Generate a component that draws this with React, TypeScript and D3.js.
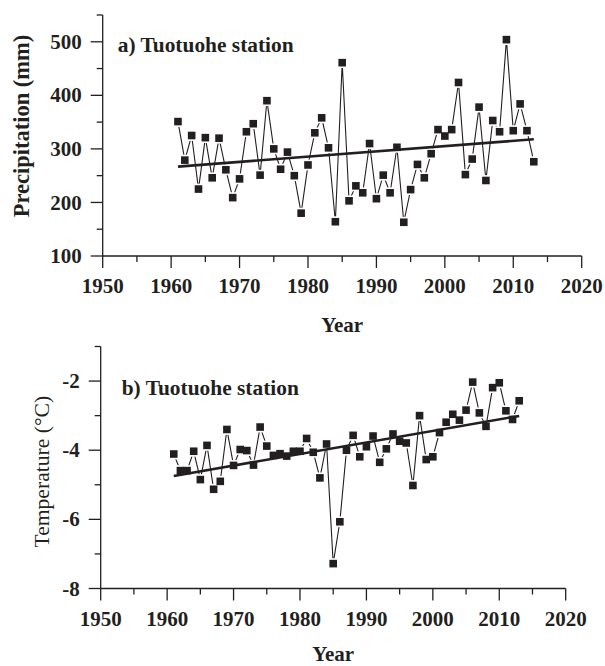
import React from "react";
import * as d3 from "d3";

const years: number[] = d3.range(1961, 2014);
const precipitation: number[] = [
  351, 279, 325, 225, 321, 246, 320, 261, 209, 244,
  332, 347, 251, 390, 300, 262, 294, 250, 180, 270,
  330, 358, 302, 164, 461, 203, 231, 218, 310, 207,
  251, 218, 303, 163, 224, 271, 246, 291, 336, 324,
  336, 424, 252, 281, 378, 241, 353, 332, 504, 334,
  384, 334, 276,
];
const temperature: number[] = [
  -4.11, -4.59, -4.59, -4.03, -4.85, -3.86, -5.13, -4.9, -3.4, -4.44,
  -3.98, -4.01, -4.43, -3.33, -3.88, -4.15, -4.1, -4.17, -4.03, -4.03,
  -3.66, -4.06, -4.8, -3.82, -7.28, -6.07, -4.0, -3.57, -4.19, -3.9,
  -3.59, -4.35, -3.96, -3.53, -3.74, -3.79, -5.02, -3.0, -4.27, -4.19,
  -3.49, -3.19, -2.96, -3.13, -2.84, -2.03, -2.92, -3.31, -2.19, -2.05,
  -2.86, -3.11, -2.57,
];
const xTicks: number[] = [1950, 1960, 1970, 1980, 1990, 2000, 2010, 2020];
const precipTicks: number[] = [100, 200, 300, 400, 500];
const tempTicks: number[] = [-8, -6, -4, -2];

const INK = "#231f20";
const FONT = "Liberation Serif, Times New Roman, Times, serif";

function fit(xs: number[], ys: number[]) {
  const mx = d3.mean(xs)!;
  const my = d3.mean(ys)!;
  let sxy = 0, sxx = 0;
  xs.forEach((x, i) => {
    sxy += (x - mx) * (ys[i] - my);
    sxx += (x - mx) * (x - mx);
  });
  const b = sxy / sxx;
  return (x: number) => my + b * (x - mx);
}

type PanelProps = {
  values: number[];
  yDomain: [number, number];
  yRange: [number, number];
  xRange: [number, number];
  yTicks: number[];
  yMinorStep: number;
  title: string;
  titleX: number;
  titleY: number;
  yLabel: string;
  yLabelX: number;
  yLabelY: number;
  yLabelBold: boolean;
  xLabelBaseline: number;
  yearBaseline: number;
};

function T(props: any) {
  const { bold, size, children, ...rest } = props;
  return (
    <text
      {...rest}
      style={{ fontFamily: FONT, fontWeight: bold ? 700 : 400, fontSize: size + "px" }}
      fill={INK}
    >
      {children}
    </text>
  );
}

function Panel(p: PanelProps) {
  const x = d3.scaleLinear().domain([1950, 2020]).range(p.xRange);
  const y = d3.scaleLinear().domain(p.yDomain).range(p.yRange);
  const x0 = p.xRange[0];
  const y0 = p.yRange[0];
  const minorX = d3.range(1955, 2020, 10);
  const minorY = d3.range(p.yDomain[0] + p.yMinorStep, p.yDomain[1] + 1e-6, p.yMinorStep * 2);
  const line = d3
    .line<number>()
    .x((_, i) => x(years[i]))
    .y((v) => y(v));
  const f = fit(years, p.values);
  const ms = 7.6;
  return (
    <g>
      <line x1={x0} x2={p.xRange[1]} y1={y0} y2={y0} stroke={INK} strokeWidth={1.3} />
      <line x1={x0} x2={x0} y1={y0} y2={p.yRange[1]} stroke={INK} strokeWidth={1.3} />
      {xTicks.map((t) => (
        <g key={"xt" + t}>
          <line x1={x(t)} x2={x(t)} y1={y0} y2={y0 + 12} stroke={INK} strokeWidth={1.3} />
          <T x={x(t)} y={p.xLabelBaseline} textAnchor="middle" bold size={21}>
            {t}
          </T>
        </g>
      ))}
      {minorX.map((t) => (
        <line key={"xm" + t} x1={x(t)} x2={x(t)} y1={y0} y2={y0 + 6} stroke={INK} strokeWidth={1.3} />
      ))}
      {p.yTicks.map((t) => (
        <g key={"yt" + t}>
          <line x1={x0 - 12} x2={x0} y1={y(t)} y2={y(t)} stroke={INK} strokeWidth={1.3} />
          <T x={x0 - 21} y={y(t)} dy="0.34em" textAnchor="end" bold size={21}>
            {t}
          </T>
        </g>
      ))}
      {minorY.map((t) => (
        <line key={"ym" + t} x1={x0 - 6} x2={x0} y1={y(t)} y2={y(t)} stroke={INK} strokeWidth={1.3} />
      ))}
      <path d={line(p.values) || ""} fill="none" stroke={INK} strokeWidth={1.1} />
      {p.values.map((v, i) => (
        <rect
          key={"h" + i}
          x={x(years[i]) - ms / 2 - 1.6}
          y={y(v) - ms / 2 - 1.6}
          width={ms + 3.2}
          height={ms + 3.2}
          fill="#fff"
        />
      ))}
      <line
        x1={x(years[0])}
        x2={x(years[years.length - 1])}
        y1={y(f(years[0]))}
        y2={y(f(years[years.length - 1]))}
        stroke={INK}
        strokeWidth={2.6}
      />
      {p.values.map((v, i) => (
        <rect
          key={"m" + i}
          x={x(years[i]) - ms / 2}
          y={y(v) - ms / 2}
          width={ms}
          height={ms}
          fill={INK}
        />
      ))}
      <T x={p.titleX} y={p.titleY} bold size={21.4}>
        {p.title}
      </T>
      <T
        transform={`translate(${p.yLabelX},${p.yLabelY}) rotate(-90)`}
        textAnchor="middle"
        bold={p.yLabelBold}
        size={p.yLabelBold ? 22.5 : 21.6}
      >
        {p.yLabel}
      </T>
      <T x={(p.xRange[0] + p.xRange[1]) / 2} y={p.yearBaseline} textAnchor="middle" bold size={21}>
        Year
      </T>
    </g>
  );
}

export default function App() {
  return (
    <svg
      width={605}
      height={666}
      style={{ position: "absolute", left: 0, top: 0, background: "#fff" }}
    >
      <rect width={605} height={666} fill="#fff" />
      <Panel
        values={precipitation}
        yDomain={[100, 550]}
        yRange={[256, 15]}
        xRange={[102.7, 581.7]}
        yTicks={precipTicks}
        yMinorStep={50}
        title="a) Tuotuohe station"
        titleX={117.7}
        titleY={52.3}
        yLabel="Precipitation (mm)"
        yLabelX={28.5}
        yLabelY={126}
        yLabelBold={true}
        xLabelBaseline={293.3}
        yearBaseline={331.7}
      />
      <Panel
        values={temperature}
        yDomain={[-8, -1]}
        yRange={[588.5, 346.5]}
        xRange={[100.7, 565.7]}
        yTicks={tempTicks}
        yMinorStep={1}
        title="b) Tuotuohe station"
        titleX={121.7}
        titleY={395}
        yLabel="Temperature (°C)"
        yLabelX={49}
        yLabelY={471.7}
        yLabelBold={false}
        xLabelBaseline={625.7}
        yearBaseline={661}
      />
    </svg>
  );
}
